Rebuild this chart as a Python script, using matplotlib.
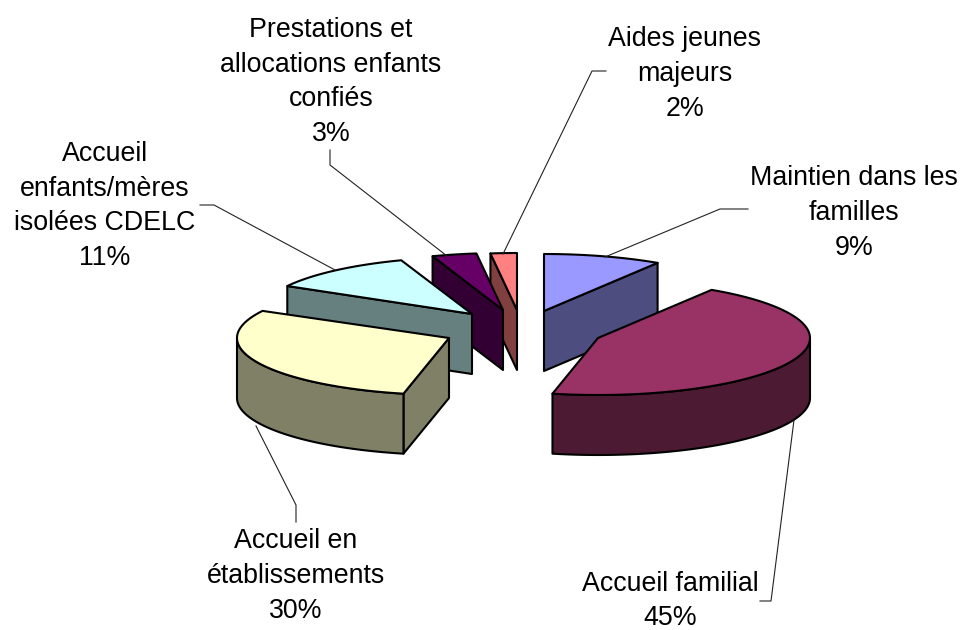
import numpy as np
from matplotlib import pyplot as plt
from matplotlib.patches import Polygon

labels = ["Maintien dans les\nfamilles\n9%", "Accueil familial\n45%", "Accueil en\nétablissements\n30%",
          "Accueil\nenfants/mères\nisolées CDELC\n11%", "Prestations et\nallocations enfants\nconfiés\n3%",
          "Aides jeunes\nmajeurs\n2%"]
values = [9, 45, 30, 11, 3, 2]

top_colors = ["#9999FF", "#993366", "#FFFFCC", "#CCFFFF", "#660066", "#FF8080"]
side_colors = ["#4D4D80", "#4D1A33", "#808066", "#668080", "#330033", "#804040"]

# where each exploded slice has its tip, in pixels
tips = [(544, 311), (598, 338), (449, 338), (472, 314), (503, 310), (517, 310)]
# small corrections in degrees, the original has some perspective
trim = [(0, 0), (0, -2), (-2, -4), (-3, -1.5), (-1.4, 0), (0, 0)]
label_pos = [(854, 213), (670, 601), (296, 576), (105, 206), (331, 82), (685, 74)]
leaders = [[(605, 257), (720, 209), (748, 209)],
           [(794, 420), (771, 601), (760, 601)],
           [(256, 426), (296, 505), (296, 522)],
           [(335, 270), (214, 205), (200, 205)],
           [(447, 256), (330, 165), (330, 150)],
           [(503, 254), (592, 71), (606, 71)]]

rx = 212
ry = 57
depth = 60

fig = plt.figure(figsize=(9.6, 6.3), dpi=100)
ax = fig.add_axes([0, 0, 1, 1])
ax.set_xlim(0, 960)
ax.set_ylim(630, 0)
ax.axis("off")


def rim(tip, a0, a1):
    t = np.radians(np.linspace(a0, a1, 80))
    return np.column_stack([tip[0] + rx * np.sin(t), tip[1] - ry * np.cos(t)])


def down(pts):
    return pts + np.array([0, depth])


def cut_face(tip, a):
    end = rim(tip, a, a)[:1]
    return np.vstack([tip, end, down(end), down(tip[None, :])])


angles = np.cumsum([0] + values) * 3.6

# back to front so that the nearer slices cover the others
for i in [5, 4, 3, 0, 2, 1]:
    tip = np.array(tips[i], dtype=float)
    a0 = angles[i] + trim[i][0]
    a1 = angles[i + 1] + trim[i][1]
    edge = dict(edgecolor="black", linewidth=1.5, joinstyle="round")

    # a cut face only shows when it turns towards the viewer
    if a0 > 180:
        ax.add_patch(Polygon(cut_face(tip, a0), facecolor=side_colors[i], **edge))
    if a1 < 180:
        ax.add_patch(Polygon(cut_face(tip, a1), facecolor=side_colors[i], **edge))

    # outer wall, only the front half of the ellipse shows
    lo, hi = max(a0, 90), min(a1, 270)
    if lo < hi:
        wall = rim(tip, lo, hi)
        ax.add_patch(Polygon(np.vstack([wall, down(wall)[::-1]]), facecolor=side_colors[i], **edge))

    ax.add_patch(Polygon(np.vstack([tip, rim(tip, a0, a1)]), facecolor=top_colors[i], **edge))

for line in leaders:
    xs, ys = zip(*line)
    ax.plot(xs, ys, color="#222222", lw=0.8)

for lab, pos in zip(labels, label_pos):
    ax.text(pos[0], pos[1], lab, ha="center", va="center", fontsize=19.3,
            family="Liberation Sans", linespacing=1.43)

fig.savefig("out.png", dpi=100)
